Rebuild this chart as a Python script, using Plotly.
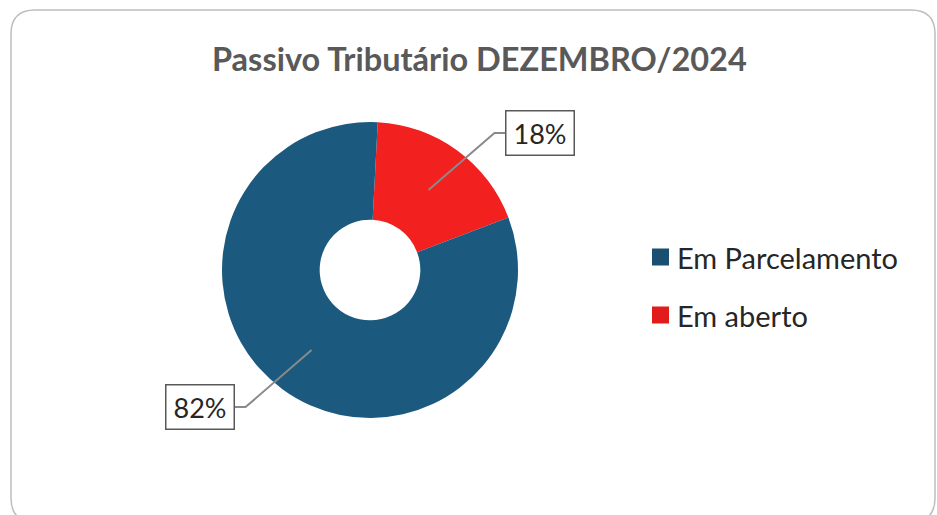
import math
import plotly.graph_objects as go

# ---- data ----
categories = ["Em Parcelamento", "Em aberto"]
values = [81.6, 18.4]
colors = ["#1B5A7E", "#F2201E"]
legend_colors = ["#1A4F72", "#E21B1B"]
title_text = "Passivo Tributário DEZEMBRO/2024"

W, H = 937, 515
CX, CY, R = 370, 270, 148
HOLE = 0.34
ROT = 3
FONT = "Lato"


def px(x):
    return x / W


def py(y):
    return 1 - y / H


# pie drawn clockwise from 12 o'clock, "Em aberto" first
fig = go.Figure()
fig.add_trace(go.Pie(
    labels=categories[::-1],
    values=values[::-1],
    hole=HOLE,
    sort=False,
    direction="clockwise",
    rotation=ROT,
    marker=dict(colors=colors[::-1], line=dict(width=0)),
    textinfo="none",
    hoverinfo="label+percent",
    showlegend=False,
    domain=dict(x=[px(CX - R), px(CX + R)], y=[py(CY + R), py(CY - R)]),
))

shapes = []
annotations = []

# rounded chart border
x0, y0, x1, y1, rr = 11, 10, 935, 522, 24
path = (f"M {px(x0 + rr)} {py(y0)} L {px(x1 - rr)} {py(y0)} "
        f"Q {px(x1)} {py(y0)} {px(x1)} {py(y0 + rr)} "
        f"L {px(x1)} {py(y1 - rr)} Q {px(x1)} {py(y1)} {px(x1 - rr)} {py(y1)} "
        f"L {px(x0 + rr)} {py(y1)} Q {px(x0)} {py(y1)} {px(x0)} {py(y1 - rr)} "
        f"L {px(x0)} {py(y0 + rr)} Q {px(x0)} {py(y0)} {px(x0 + rr)} {py(y0)} Z")
shapes.append(dict(type="path", xref="paper", yref="paper", path=path,
                   line=dict(color="#BDBDBD", width=1.5), layer="below"))

# data labels with leader lines
total = sum(values)
cum = 0.0
r_mid = R * (1 + HOLE) / 2
BOX_W, BOX_H = 70, 46
for cat, v in zip(categories[::-1], values[::-1]):
    frac = v / total
    mid_cw = ROT + (cum + frac / 2) * 360
    cum += frac
    a = math.radians(mid_cw)
    sx0 = CX + r_mid * math.sin(a)
    sy0 = CY - r_mid * math.cos(a)
    sgx = 1 if math.sin(a) >= 0 else -1
    sgy = -1 if math.cos(a) >= 0 else 1
    bx = sx0 + sgx * 112
    by = sy0 + sgy * 57
    edge_x = bx - sgx * BOX_W / 2
    elbow_x = edge_x - sgx * 11
    shapes.append(dict(
        type="path", xref="paper", yref="paper",
        path=f"M {px(sx0)} {py(sy0)} L {px(elbow_x)} {py(by)} L {px(edge_x)} {py(by)}",
        line=dict(color="#8A8A8A", width=2)))
    annotations.append(dict(
        x=px(bx), y=py(by), xref="paper", yref="paper",
        text=f"{round(frac * 100)}%", showarrow=False,
        width=BOX_W - 3, height=BOX_H - 3, borderpad=0,
        bordercolor="#595959", borderwidth=1.5, bgcolor="white",
        font=dict(family=FONT, size=27, color="#262626"),
        xanchor="center", yanchor="middle"))

# legend (manual)
LX, LY0, LDY, SQ = 652, 257, 58, 17
for i, (cat, c) in enumerate(zip(categories, legend_colors)):
    yc = LY0 + i * LDY
    shapes.append(dict(type="rect", xref="paper", yref="paper",
                       x0=px(LX), x1=px(LX + SQ), y0=py(yc + SQ / 2), y1=py(yc - SQ / 2),
                       fillcolor=c, line=dict(color=c, width=0)))
    annotations.append(dict(
        x=px(LX + SQ + 6), y=py(yc), xref="paper", yref="paper",
        text=cat, showarrow=False, xanchor="left", yanchor="middle",
        font=dict(family=FONT, size=29, color="#262626")))

# title
annotations.append(dict(
    x=px(479), y=py(58), xref="paper", yref="paper",
    text=f"<b>{title_text}</b>", showarrow=False,
    xanchor="center", yanchor="middle",
    font=dict(family=FONT, size=32.5, color="#595959")))

fig.update_layout(
    width=W, height=H,
    margin=dict(l=0, r=0, t=0, b=0),
    paper_bgcolor="white", plot_bgcolor="white",
    shapes=shapes, annotations=annotations,
    showlegend=False,
)

fig.write_html("out.html", config={"displayModeBar": False},
               post_script="document.body.style.margin='0';")
